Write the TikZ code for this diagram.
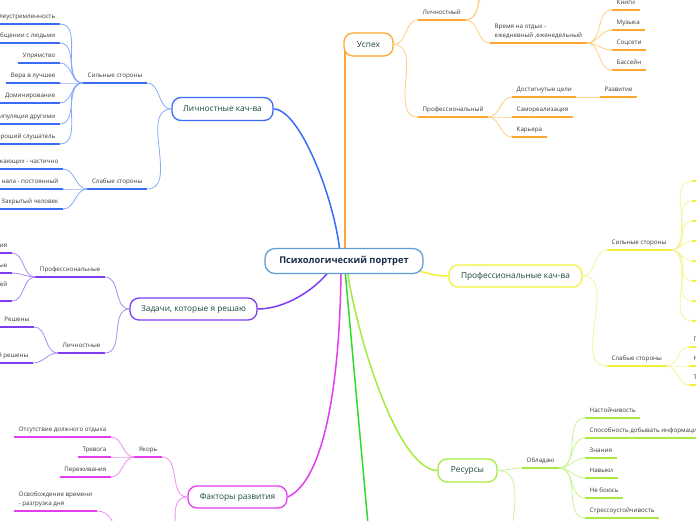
\documentclass[tikz,border=0pt]{standalone}
\usepackage{fontspec}
\setmainfont{Open Sans}
\usetikzlibrary{backgrounds}
\newcommand\lfont{\fontsize{6.2}{8.6}\selectfont}
\newcommand\mfont{\fontsize{8.3}{10}\selectfont}
\newcommand\rfont{\fontsize{9.3}{11}\selectfont\bfseries}
\definecolor{cblue}{HTML}{3A6DF4}
\definecolor{cblueL}{HTML}{8AAAF8}
\definecolor{coran}{HTML}{FFA630}
\definecolor{coranL}{HTML}{FFCF80}
\definecolor{cyel}{HTML}{F2F03A}
\definecolor{cyelL}{HTML}{F5F49A}
\definecolor{cpur}{HTML}{7E3CF2}
\definecolor{cpurL}{HTML}{AC8AF6}
\definecolor{cmag}{HTML}{E43DEF}
\definecolor{cmagL}{HTML}{F08CF4}
\definecolor{clime}{HTML}{A6EC40}
\definecolor{climeL}{HTML}{C8F392}
\definecolor{cgreen}{HTML}{2EDB2E}
\definecolor{croot}{HTML}{5B9BD6}
\definecolor{labtxt}{HTML}{3A3A3A}
\definecolor{maintxt}{HTML}{1A4A3C}
\definecolor{roottxt}{HTML}{1C2B4A}
\tikzset{
  lbl/.style={font=\lfont, text=labtxt, inner xsep=4.5pt, inner ysep=3.8pt, text height=4.6pt, text depth=1.5pt},
  lbltwo/.style={font=\lfont, text=labtxt, inner xsep=4.5pt, inner ysep=3.8pt, text depth=1.5pt, align=left},
  ul/.style={draw=#1, line width=1.8pt},
  con/.style={draw=#1, line width=0.8pt},
  mcon/.style={draw=#1, line width=1.5pt},
  mbox/.style={draw=#1, line width=1.3pt, rounded corners=9pt, fill=white, font=\mfont, text=maintxt, inner sep=0pt}
}
\newcommand\leftlbl[5]{\node[lbl,anchor=south east] (#1) at (#2,#3) {#4};\draw[ul=#5] (#1.south west) -- (#1.south east);}
\newcommand\rightlbl[5]{\node[lbl,anchor=south west] (#1) at (#2,#3) {#4};\draw[ul=#5] (#1.south west) -- (#1.south east);}
\begin{document}
\begin{tikzpicture}[x=1pt,y=-1pt]
\useasboundingbox (0,0) rectangle (696,520);
\clip (0,0) rectangle (696,520);

% ---- main nodes
\node[draw=croot, line width=1.2pt, rounded corners=10pt, fill=white, minimum width=158pt, minimum height=25pt, font=\rfont, text=roottxt, inner sep=0pt] (root) at (344,261) {Психологический портрет};
\node[mbox=cblue, minimum width=101pt, minimum height=23pt] (lich) at (222.5,109) {Личностные кач-ва};
\node[mbox=coran, minimum width=49pt, minimum height=23pt] (usp) at (368.5,44.5) {Успех};
\node[mbox=cyel, minimum width=133pt, minimum height=22pt] (prof) at (515.5,276) {Профессиональные кач-ва};
\node[mbox=cpur, minimum width=127pt, minimum height=22pt] (zad) at (193.5,309) {Задачи, которые я решаю};
\node[mbox=cmag, minimum width=99pt, minimum height=22pt] (fak) at (237.5,497) {Факторы развития};
\node[mbox=clime, minimum width=59pt, minimum height=23pt] (res) at (467.5,470.5) {Ресурсы};

\coordinate (rB) at (340,253);
\coordinate (rO) at (345,253);
\coordinate (rY) at (410,270);
\coordinate (rP) at (330,270);
\coordinate (rM) at (341,270);
\coordinate (rG) at (345,270);
\coordinate (rL) at (347,270);
\coordinate (uspin) at (345,45);
\coordinate (gEnd) at (369,535);

\begin{scope}[on background layer]
\fill[white] (0,0) rectangle (696,520);
\clip (0,0) rectangle (696,520);
\draw[mcon=cblue] (lich.east) .. controls (300,109) and (335,200) .. (rB);
\draw[mcon=coran] (rO) -- (uspin);
\draw[mcon=cyel] (rY) .. controls (430,272) and (430,276) .. (prof.west);
\draw[mcon=cpur] (zad.east) .. controls (285,309) and (315,290) .. (rP);
\draw[mcon=cmag] (rM) .. controls (340,380) and (325,480) .. (fak.east);
\draw[mcon=cgreen] (rG) -- (gEnd);
\draw[mcon=clime] (rL) .. controls (360,350) and (400,470) .. (res.west);
\end{scope}

% ---- Личностные кач-ва
\leftlbl{sil}{147}{83}{Сильные стороны}{cblue}
\leftlbl{sla}{147}{189}{Слабые стороны}{cblue}
\draw[con=cblueL] (lich.west) to[out=180,in=0] (sil.south east);
\draw[con=cblueL] (lich.west) to[out=180,in=0] (sla.south east);
\leftlbl{s1}{60}{24}{Целеустремленность}{cblue}
\leftlbl{s2}{60}{43}{общении с людьми}{cblue}
\leftlbl{s3}{60}{63}{Упрямство}{cblue}
\leftlbl{s4}{60}{83}{Вера в лучшее}{cblue}
\leftlbl{s5}{60}{103}{Доминирование}{cblue}
\leftlbl{s6}{60}{124}{Манипуляция другими}{cblue}
\leftlbl{s7}{60}{144}{Хороший слушатель}{cblue}
\foreach \n in {s1,s2,s3,s4,s5,s6,s7}{\draw[con=cblueL] (sil.south west) to[out=180,in=0] (\n.south east);}
\leftlbl{w1}{63}{169}{ожающих - частично}{cblue}
\leftlbl{w2}{63}{189}{нала - постоянный}{cblue}
\leftlbl{w3}{63}{209}{Закрытый человек}{cblue}
\foreach \n in {w1,w2,w3}{\draw[con=cblueL] (sla.south west) to[out=180,in=0] (\n.south east);}

% ---- Успех
\rightlbl{lichn}{418}{20}{Личностный}{coran}
\rightlbl{prfn}{418}{117}{Профессиональный}{coran}
\draw[con=coranL] (usp.east) to[out=0,in=180] (lichn.south west);
\draw[con=coranL] (usp.east) to[out=0,in=180] (prfn.south west);
\coordinate (lcA) at (492,-14);
\coordinate (lcB) at (492,-36);
\draw[con=coranL] (lichn.south east) to[out=0,in=180] (lcA);
\draw[con=coranL] (lichn.south east) to[out=0,in=180] (lcB);
\node[lbltwo,anchor=south west] (vrem) at (490,43) {Время на отдых -\\ежедневный ,еженедельный};
\draw[ul=coran] (vrem.south west) -- (vrem.south east);
\draw[con=coranL] (lichn.south east) to[out=0,in=180] (vrem.south west);
\rightlbl{kn}{612}{10}{Книги}{coran}
\rightlbl{mu}{612}{30}{Музыка}{coran}
\rightlbl{so}{612}{50}{Соцсети}{coran}
\rightlbl{ba}{612}{70}{Бассейн}{coran}
\foreach \n in {kn,mu,so,ba}{\draw[con=coranL] (vrem.south east) to[out=0,in=180] (\n.south west);}
\rightlbl{dost}{512}{97}{Достигнутые цели}{coran}
\rightlbl{samo}{512}{117}{Самореализация}{coran}
\rightlbl{kar}{512}{137}{Карьера}{coran}
\foreach \n in {dost,samo,kar}{\draw[con=coranL] (prfn.south east) to[out=0,in=180] (\n.south west);}
\rightlbl{razv}{600}{97}{Развитие}{coran}
\draw[con=coranL] (dost.south east) -- (razv.south west);

% ---- Профессиональные кач-ва
\rightlbl{psil}{607}{250}{Сильные стороны}{cyel}
\rightlbl{psla}{607}{366}{Слабые стороны}{cyel}
\draw[con=cyelL] (prof.east) to[out=0,in=180] (psil.south west);
\draw[con=cyelL] (prof.east) to[out=0,in=180] (psla.south west);
\foreach \k in {0,...,7}{
  \coordinate (pc\k) at (692,{181+20*\k});
  \draw[con=cyelL] (psil.south east) to[out=0,in=180] (pc\k);
  \draw[ul=cyel] (pc\k) -- ++(50,0);
}
\rightlbl{pw1}{689}{347}{П}{cyel}
\rightlbl{pw2}{689}{366}{Н}{cyel}
\rightlbl{pw3}{689}{385}{Т}{cyel}
\foreach \n in {pw1,pw2,pw3}{\draw[con=cyelL] (psla.south east) to[out=0,in=180] (\n.south west);}

% ---- Задачи
\leftlbl{zprof}{105}{277}{Профессиональные}{cpur}
\leftlbl{zlich}{105}{353}{Личностные}{cpur}
\draw[con=cpurL] (zad.west) to[out=180,in=0] (zprof.south east);
\draw[con=cpurL] (zad.west) to[out=180,in=0] (zlich.south east);
\leftlbl{zp1}{12}{253}{ия}{cpur}
\leftlbl{zp2}{12}{273}{ые}{cpur}
\leftlbl{zp3}{12}{301}{\raisebox{8.6pt}{ей}}{cpur}
\foreach \n in {zp1,zp2,zp3}{\draw[con=cpurL] (zprof.south west) to[out=180,in=0] (\n.south east);}
\leftlbl{zl1}{34}{327}{Решены}{cpur}
\leftlbl{zl2}{33}{363}{й решены}{cpur}
\foreach \n in {zl1,zl2}{\draw[con=cpurL] (zlich.south west) to[out=180,in=0] (\n.south east);}

% ---- Факторы развития
\leftlbl{yak}{162}{457}{Якорь}{cmag}
\draw[con=cmagL] (fak.west) to[out=180,in=0] (yak.south east);
\coordinate (fakC) at (165,568);
\draw[con=cmagL] (fak.west) to[out=180,in=0] (fakC);
\leftlbl{y1}{111}{437}{Отсутствие должного отдыха}{cmag}
\leftlbl{y2}{111}{457}{Тревога}{cmag}
\leftlbl{y3}{111}{477}{Переживания}{cmag}
\foreach \n in {y1,y2,y3}{\draw[con=cmagL] (yak.south west) to[out=180,in=0] (\n.south east);}
\node[lbltwo,anchor=south east] (osv) at (97,511) {Освобождение времени\\- разгрузка дня};
\draw[ul=cmag] (osv.south west) -- (osv.south east);
\coordinate (osvP) at (140,568);
\draw[con=cmagL] (osvP) to[out=180,in=0] (osv.south east);

% ---- Ресурсы
\rightlbl{obl}{522}{468}{Обладаю}{clime}
\draw[con=climeL] (res.east) to[out=0,in=180] (obl.south west);
\coordinate (resC) at (528,575);
\draw[con=climeL] (res.east) to[out=0,in=180] (resC);
\rightlbl{r1}{585}{418}{Настойчивость}{clime}
\rightlbl{r2}{585}{438}{Способность добывать информацию}{clime}
\rightlbl{r3}{585}{458}{Знания}{clime}
\rightlbl{r4}{585}{478}{Навыки}{clime}
\rightlbl{r5}{585}{498}{Не боюсь}{clime}
\rightlbl{r6}{585}{518}{Стрессоустойчивость}{clime}
\foreach \n in {r1,r2,r3,r4,r5,r6}{\draw[con=climeL] (obl.south east) to[out=0,in=180] (\n.south west);}
\end{tikzpicture}
\end{document}
